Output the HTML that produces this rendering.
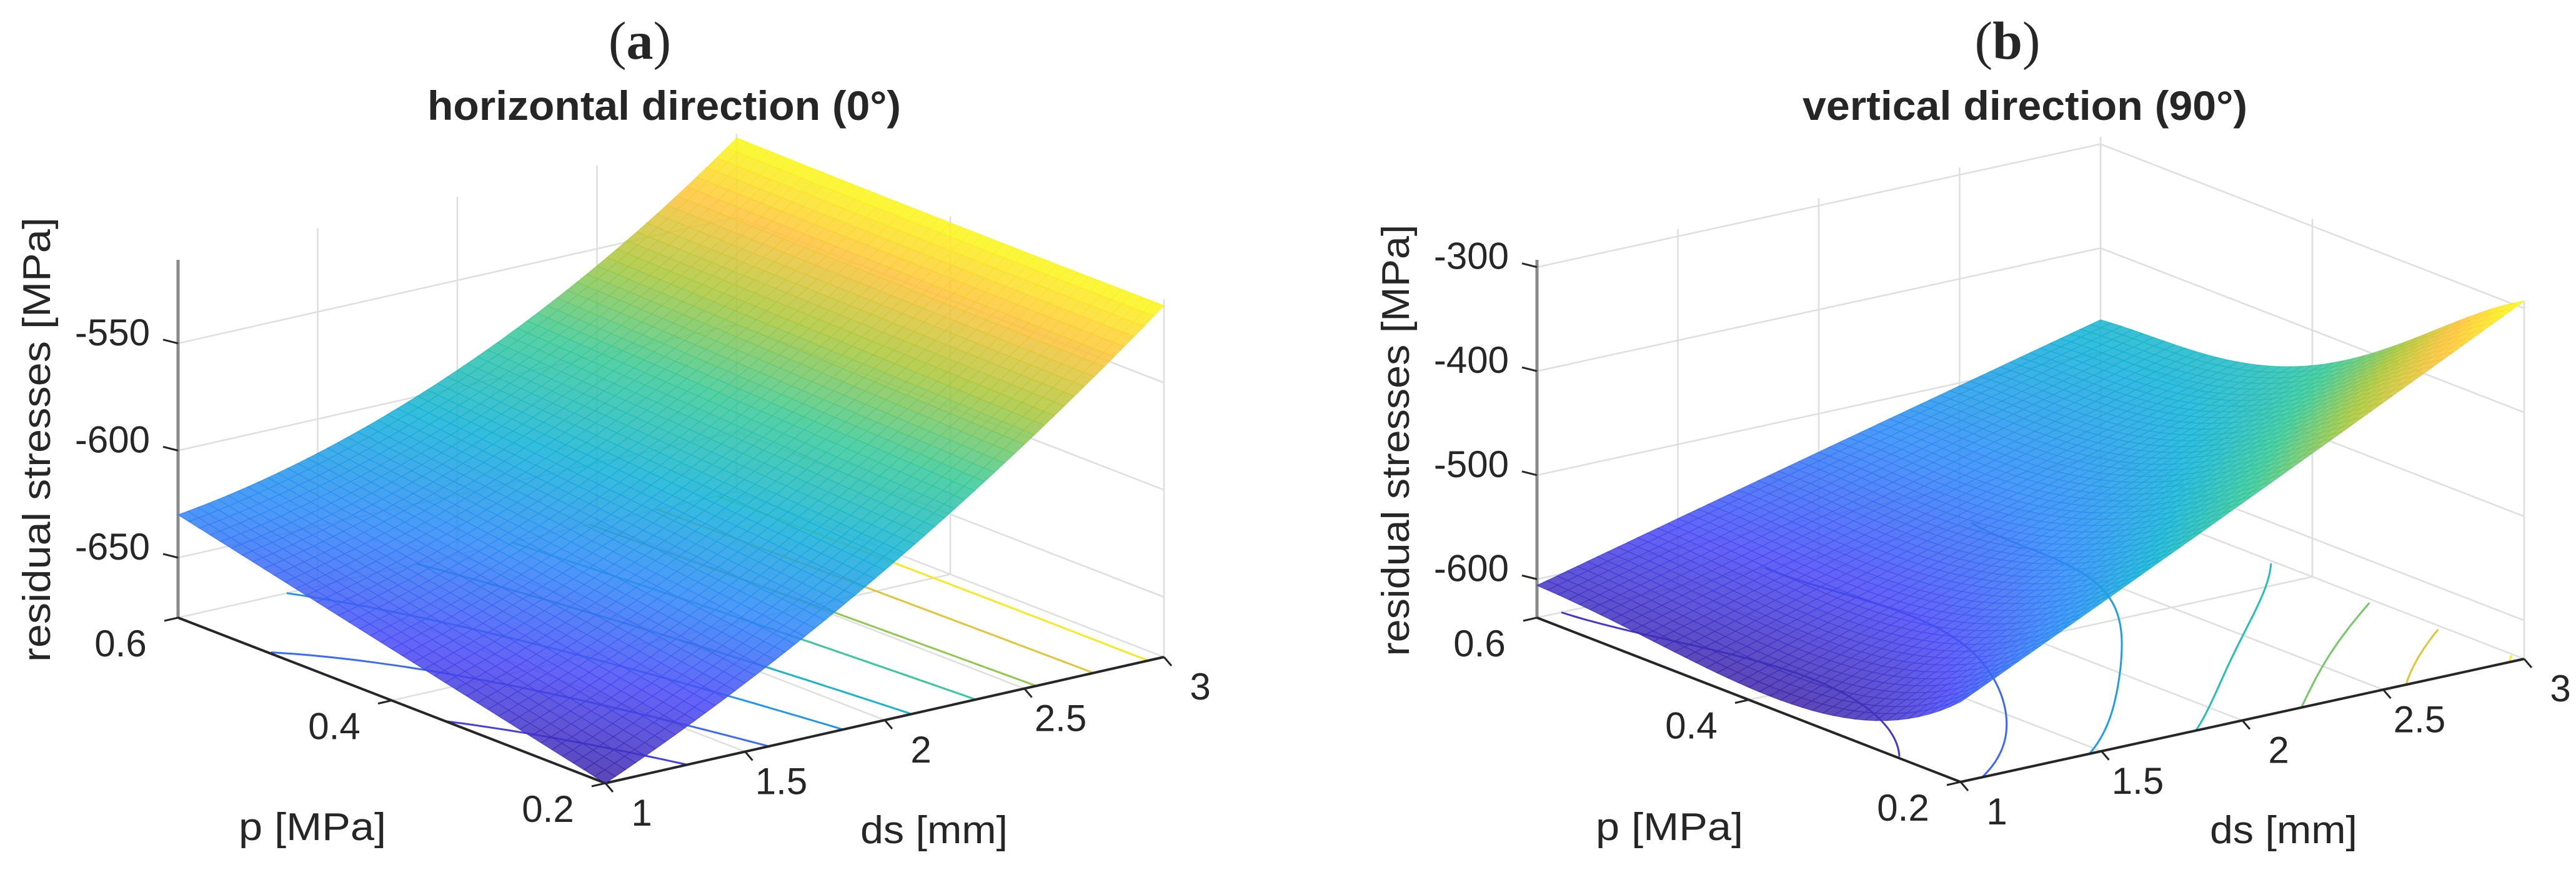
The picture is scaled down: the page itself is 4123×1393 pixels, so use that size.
<!DOCTYPE html>
<html>
<head>
<meta charset="utf-8">
<style>
  html,body{margin:0;padding:0;background:#fff;}
  svg{display:block;}
  text{font-family:"Liberation Sans",Arial,sans-serif;fill:#262626;}
</style>
</head>
<body>
<svg id="fig" width="4123" height="1393" viewBox="0 0 4123 1393" xmlns="http://www.w3.org/2000/svg">
  <rect width="4123" height="1393" fill="#fff"/>
  <g id="panelA"></g>
  <g id="panelB"></g>
</svg>
<script>
// ---------- data ----------
const dsA = [1, 1.5, 2, 2.5, 3];
const pA = [0.2, 0.4, 0.6];
const zA_p02 = [-678, -646, -608, -564, -514];
const zA_p04 = [-654, -631, -600, -561, -514];
const zA_p06 = [-630, -616, -592, -558, -513];
const levelsA = [-660, -640, -620, -600, -580, -560, -540, -520];
const zTicksA = [-650, -600, -550];

const dsB = [1, 2, 3];
const pB = [0.2, 0.3, 0.4, 0.5, 0.6];
const zB_p02 = [-560, -428, -293];
const zB_p03 = [-616, -492, -367];
const zB_p04 = [-625, -530, -434];
const zB_p05 = [-615, -539, -463];
const zB_p06 = [-606, -537, -469];
const levelsB = [-600, -550, -500, -450, -400, -350, -300];
const zTicksB = [-600, -500, -400, -300];

const pTicks = [0.2, 0.4, 0.6];
const pTickLabels = ["0.2", "0.4", "0.6"];
const dsTicks = [1, 1.5, 2, 2.5, 3];
const dsTickLabels = ["1", "1.5", "2", "2.5", "3"];

// ---------- helpers ----------
const NS = "http://www.w3.org/2000/svg";
function mk(tag, attrs, parent){
  const e = document.createElementNS(NS, tag);
  for (const k in attrs) e.setAttribute(k, attrs[k]);
  parent.appendChild(e);
  return e;
}
const PAR = [[0,[62,38,168]],[0.15,[72,72,245]],[0.3,[45,135,247]],[0.45,[18,177,214]],
             [0.6,[55,200,151]],[0.75,[171,199,57]],[0.88,[254,195,56]],[1,[249,251,21]]];
function parula(t){
  t = Math.max(0, Math.min(1, t));
  for (let i=1;i<PAR.length;i++){
    if (t <= PAR[i][0]){
      const a=PAR[i-1], b=PAR[i], f=(t-a[0])/(b[0]-a[0]);
      const c=a[1].map((v,k)=>Math.round(v+(b[1][k]-v)*f));
      return "rgb("+c.join(",")+")";
    }
  }
  return "rgb(249,251,21)";
}
function lagrange(xs, ys, x){
  let s=0;
  for (let i=0;i<xs.length;i++){
    let w=1;
    for (let j=0;j<xs.length;j++) if (j!==i) w*=(x-xs[j])/(xs[i]-xs[j]);
    s+=w*ys[i];
  }
  return s;
}
function interp(dsArr, pArr, Z, ds, p){
  const col = Z.map(row=>lagrange(dsArr,row,ds));
  return lagrange(pArr,col,p);
}

function drawPanel(g, cfg){
  const {A,B,C,zmin,zmax,H,dsArr,pArr,Z,levels,zTicks} = cfg;
  function proj(ds,p,z){
    const u=(ds-1)/2, v=(0.6-p)/0.4, w=(z-zmin)/(zmax-zmin);
    return [A[0]+v*(B[0]-A[0])+u*(C[0]-B[0]), A[1]+v*(B[1]-A[1])+u*(C[1]-B[1])-w*H];
  }
  const pt = a => a[0].toFixed(1)+","+a[1].toFixed(1);
  const grid = mk("g",{},g);
  
  
  const gs = {stroke:"#dedede","stroke-width":2.5,fill:"none"};
  function gl(a,b){ return mk("line",Object.assign({x1:a[0],y1:a[1],x2:b[0],y2:b[1]},gs),grid); }
  dsTicks.forEach(d=>{ gl(proj(d,0.6,zmin),proj(d,0.6,zmax)); gl(proj(d,0.2,zmin),proj(d,0.6,zmin)); });
  pTicks.forEach(p=>{ gl(proj(3,p,zmin),proj(3,p,zmax)); gl(proj(1,p,zmin),proj(3,p,zmin)); });
  zTicks.forEach(z=>{ gl(proj(1,0.6,z),proj(3,0.6,z)); gl(proj(3,0.6,z),proj(3,0.2,z)); });

  // contours on floor
  const cg = mk("g",{},g);
  
  
  const zlo = Math.min(...Z.flat()), zhi = Math.max(...Z.flat());
  const M = 80, NS_ = 400;
  levels.forEach(L=>{
    let segs=[], cur=[];
    for (let j=0;j<=M;j++){
      const p = 0.2 + 0.4*j/M;
      let found=null, prev=interp(dsArr,pArr,Z,1,p);
      for (let k=1;k<=NS_;k++){
        const ds=1+2*k/NS_, zz=interp(dsArr,pArr,Z,ds,p);
        if ((prev-L)*(zz-L)<=0 && prev!==zz){ found = ds-2/NS_*(zz-L)/(zz-prev); break; }
        prev=zz;
      }
      if (found!==null) cur.push(proj(found,p,zmin));
      else { if (cur.length>1) segs.push(cur); cur=[]; }
    }
    if (cur.length>1) segs.push(cur);
    segs.forEach(s=>{
      const pl = mk("polyline",{points:s.map(pt).join(" "),fill:"none",stroke:parula((L-zlo)/(zhi-zlo)),"stroke-width":3},cg);
      
      
    });
  });

  // axes
  const ax = mk("g",{},g);
  
  
  const zAxis = mk("line",{x1:A[0],y1:proj(1,0.6,zmin)[1],x2:A[0],y2:proj(1,0.6,zmax)[1],stroke:"#8a8a8a","stroke-width":5},ax);
  
  
  const pAxis = mk("line",{x1:A[0],y1:A[1],x2:B[0],y2:B[1],stroke:"#262626","stroke-width":4},ax);
  
  
  const dAxis = mk("line",{x1:B[0],y1:B[1],x2:C[0],y2:C[1],stroke:"#262626","stroke-width":4},ax);
  
  

  // surface
  const sg = mk("g",{},g);
  
  
  const NU=56, NV=40, cells=[];
  for (let i=0;i<NU;i++) for (let j=0;j<NV;j++){
    const d0=1+2*i/NU, d1=1+2*(i+1)/NU, p0=0.2+0.4*j/NV, p1=0.2+0.4*(j+1)/NV;
    const z00=interp(dsArr,pArr,Z,d0,p0), z10=interp(dsArr,pArr,Z,d1,p0),
          z11=interp(dsArr,pArr,Z,d1,p1), z01=interp(dsArr,pArr,Z,d0,p1);
    const zm=(z00+z10+z11+z01)/4;
    cells.push({key:(i+0.5)/NU+(j+0.5)/NV, pts:[proj(d0,p0,z00),proj(d1,p0,z10),proj(d1,p1,z11),proj(d0,p1,z01)], c:parula((zm-zlo)/(zhi-zlo))});
  }
  cells.sort((a,b)=>b.key-a.key);
  cells.forEach(c=>{
    const poly = mk("polygon",{points:c.pts.map(pt).join(" "),fill:c.c,stroke:c.c,"stroke-width":1.2,"fill-opacity":0.85,"stroke-opacity":0.85},sg);
    
    
  });

  // ticks and labels
  const tg = mk("g",{},g);
  
  
  zTicks.forEach(z=>{
    const q=proj(1,0.6,z);
    mk("line",{x1:q[0]-24,y1:q[1]-6,x2:q[0],y2:q[1],stroke:"#262626","stroke-width":3},tg);
    const t=mk("text",{x:q[0]-45,y:q[1]+3,"font-size":60,"text-anchor":"end"},tg);
    t.textContent=String(z);
    
    
  });
  pTicks.forEach((p,k)=>{
    const q=proj(1,p,zmin);
    mk("line",{x1:q[0]-22,y1:q[1]+5,x2:q[0],y2:q[1],stroke:"#262626","stroke-width":3},tg);
    const t=mk("text",{x:q[0]-92,y:q[1]+62,"font-size":60,"text-anchor":"middle"},tg);
    t.textContent=pTickLabels[k];
    
    
  });
  dsTicks.forEach((d,k)=>{
    const q=proj(d,0.2,zmin);
    mk("line",{x1:q[0],y1:q[1],x2:q[0]+12,y2:q[1]+14,stroke:"#262626","stroke-width":3},tg);
    const t=mk("text",{x:q[0]+58,y:q[1]+68,"font-size":60,"text-anchor":"middle"},tg);
    t.textContent=dsTickLabels[k];
    
    
  });
}

function labels(g, L){
  const pl = mk("text",{x:L.letterX,y:94,"font-size":86,"text-anchor":"middle",style:"font-family:'Liberation Serif',serif"},g);
  
  
  const o = mk("tspan",{},pl); o.textContent="(";
  const m = mk("tspan",{"font-weight":"bold"},pl); m.textContent=L.letter;
  const c = mk("tspan",{},pl); c.textContent=")";
  const tt = mk("text",{x:L.titleX,y:192,"font-size":66,"font-weight":"bold","text-anchor":"middle",textLength:L.titleW,lengthAdjust:"spacingAndGlyphs"},g);
  tt.textContent=L.title;
  
  
  const zl = mk("text",{x:0,y:0,"font-size":62,"text-anchor":"middle",textLength:L.zW,lengthAdjust:"spacingAndGlyphs",transform:"translate("+L.zX+","+L.zY+") rotate(-90)"},g);
  zl.textContent=L.zText;
  
  
  const pt = mk("text",{x:L.pX,y:1345,"font-size":62,"text-anchor":"middle",textLength:236,lengthAdjust:"spacingAndGlyphs"},g);
  pt.textContent="p [MPa]";
  
  
  const dt = mk("text",{x:L.dX,y:1350,"font-size":62,"text-anchor":"middle",textLength:236,lengthAdjust:"spacingAndGlyphs"},g);
  dt.textContent="ds [mm]";
  
  
}

const gA = document.getElementById("panelA"), gB = document.getElementById("panelB");
drawPanel(gA,{A:[285,989],B:[969,1254],C:[1863,1052],zmin:-678,zmax:-511,H:573,
  dsArr:dsA,pArr:pA,Z:[zA_p02,zA_p04,zA_p06],levels:levelsA,zTicks:zTicksA});
drawPanel(gB,{A:[2460,989],B:[3138,1252],C:[4040,1055],zmin:-637,zmax:-293,H:573,
  dsArr:dsB,pArr:pB,Z:[zB_p02,zB_p03,zB_p04,zB_p05,zB_p06],levels:levelsB,zTicks:zTicksB});
labels(gA,{letter:"a",letterX:1024,title:"horizontal direction (0°)",titleX:1063,titleW:758,
  zText:"residual stresses  [MPa]",zX:80,zY:704,zW:712,pX:500,dX:1495});
labels(gB,{letter:"b",letterX:3213,title:"vertical direction (90°)",titleX:3241,titleW:712,
  zText:"residual stresses [MPa]",zX:2255,zY:705,zW:691,pX:2672,dX:3655});
</script>
</body>
</html>
